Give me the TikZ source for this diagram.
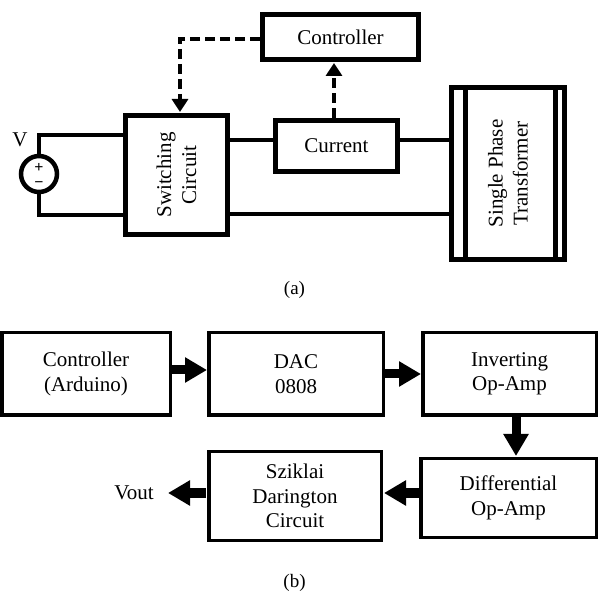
\documentclass[tikz,border=0pt]{standalone}
\usepackage{fontspec}
\setmainfont{Liberation Serif}
\usetikzlibrary{arrows.meta,calc}
\begin{document}
\begin{tikzpicture}[x=1pt,y=-1pt,
  tbox/.style={draw,line width=5pt,rectangle,inner sep=0pt,align=center,font=\fontsize{21}{25}\selectfont},
  bbox/.style={draw,line width=3.5pt,rectangle,inner sep=0pt,align=center,font=\fontsize{21}{24.5}\selectfont},
  wire/.style={line width=4pt},
  dasharrow/.style={line width=3.5pt,dash pattern=on 10pt off 5pt,-{Triangle[width=16pt,length=13pt]}},
  fatarrow/.style={line width=9pt,-{Triangle[width=24pt,length=22pt]}},
  lbl/.style={font=\fontsize{21}{25}\selectfont,inner sep=0pt},
  sign/.style={inner sep=0pt,align=center,font=\bfseries\fontsize{16}{15}\selectfont},
  captxt/.style={font=\fontsize{19}{23}\selectfont,inner sep=0pt}]
\useasboundingbox (0,0) rectangle (600,593);
% ---------- (a) ----------
\node[tbox,minimum width=156pt,minimum height=45pt] (ctrl) at (340.5,37) {Controller};
\node[tbox,minimum width=102pt,minimum height=119pt] (sw) at (176.5,175) {};
\node[lbl,rotate=90,align=center] (swt) at (176.5,175) {Switching\\Circuit};
\node[tbox,minimum width=122pt,minimum height=51pt] (cur) at (336.5,146) {Current};
\node[tbox,minimum width=113pt,minimum height=172pt] (tr) at (508,173.5) {};
\node[lbl,rotate=90,align=center] (trt) at (508,173.5) {Single Phase\\Transformer};
\draw[line width=5pt] ($(tr.north west)+(16.5,0)$) -- ($(tr.south west)+(16.5,0)$);
\draw[line width=5pt] ($(tr.north east)+(-11.5,0)$) -- ($(tr.south east)+(-11.5,0)$);
\node[draw,circle,line width=4.5pt,minimum size=36pt,inner sep=0pt] (src) at (39,174) {};
\node[sign] (pm) at (39,175) {+\\−};
\node[lbl] (v) at (20,140) {V};
\coordinate (a1) at (39,135);
\coordinate (a2) at (39,215);
\coordinate (s1) at (sw.west |- a1);
\coordinate (s2) at (sw.west |- a2);
\draw[wire] (src.north) -- (a1) -- (s1);
\draw[wire] (src.south) -- (a2) -- (s2);
\coordinate (b1) at (230,140);
\coordinate (c1) at (cur.west |- b1);
\coordinate (c2) at (cur.east |- b1);
\coordinate (t1) at (tr.west |- b1);
\coordinate (b2) at (230,214);
\coordinate (t2) at (tr.west |- b2);
\draw[wire] (sw.east |- b1) -- (c1);
\draw[wire] (c2) -- (t1);
\draw[wire] (sw.east |- b2) -- (t2);
\coordinate (d1) at (180,39);
\coordinate (d2) at (180,112);
\draw[dasharrow] (ctrl.west |- d1) -- (d1) -- (d2);
\coordinate (e1) at (334,118);
\coordinate (e2) at (334,63);
\draw[dasharrow] (e1) -- (e2);
\node[captxt] (capa) at (294.5,290) {(a)};
% ---------- (b) ----------
\node[bbox,minimum width=168.5pt,minimum height=82.5pt] (ard) at (86,374) {Controller\\(Arduino)};
\node[bbox,minimum width=174.5pt,minimum height=82.5pt] (dac) at (296,374) {DAC\\0808};
\node[bbox,minimum width=173.5pt,minimum height=82.5pt] (inv) at (509.5,374) {Inverting\\Op-Amp};
\node[bbox,minimum width=175.5pt,minimum height=78.5pt] (dif) at (508.5,498) {Differential\\Op-Amp};
\node[bbox,minimum width=172.5pt,minimum height=88.5pt] (szk) at (295,496) {Sziklai\\Darington\\Circuit};
\node[lbl] (vout) at (134,493) {Vout};
\coordinate (f1) at (172,370);
\coordinate (f2) at (207,370);
\draw[fatarrow] (f1) -- (f2);
\draw[fatarrow] (dac.east) -- (inv.west);
\coordinate (g1) at (516,416);
\coordinate (g2) at (516,456);
\draw[fatarrow] (g1) -- (g2);
\coordinate (h1) at (419,493);
\coordinate (h2) at (384,493);
\draw[fatarrow] (h1) -- (h2);
\coordinate (k1) at (206,493);
\coordinate (k2) at (168,493);
\draw[fatarrow] (k1) -- (k2);
\node[captxt] (capb) at (294.5,583) {(b)};
\end{tikzpicture}
\end{document}
